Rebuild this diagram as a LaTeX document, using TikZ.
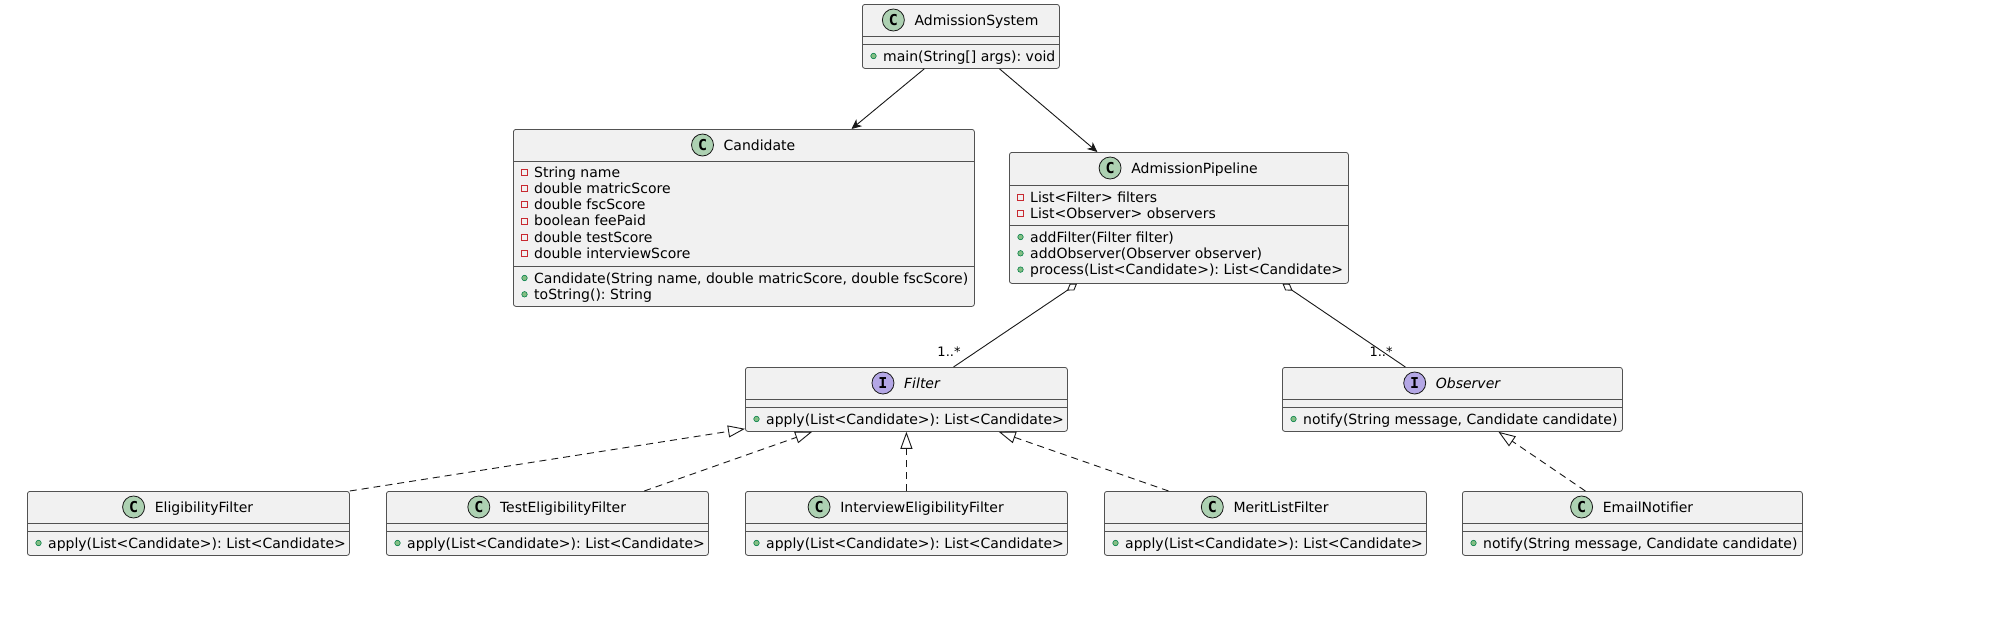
\documentclass[tikz,border=0pt]{standalone}
\usepackage{fontspec}
\setmainfont{DejaVu Sans}
\newfontfamily\iconfont{DejaVu Sans Mono}
\usetikzlibrary{arrows.meta,calc}
\frenchspacing
\definecolor{boxfill}{HTML}{F1F1F1}
\definecolor{boxline}{HTML}{181818}
\definecolor{cicon}{HTML}{ADD1B2}
\definecolor{iicon}{HTML}{B4A7E5}
\definecolor{privc}{HTML}{C82930}
\definecolor{pubfill}{HTML}{84BE84}
\definecolor{publine}{HTML}{038048}
\tikzset{
  umlbox/.style={draw=boxline!75, fill=boxfill, line width=0.8pt, rounded corners=2.5pt, inner sep=0pt, anchor=north west},
  sepline/.style={draw=boxline!75, line width=0.8pt},
  headtext/.style={anchor=base, inner sep=0pt, font=\fontsize{14}{16}\selectfont},
  memtext/.style={anchor=base west, inner sep=0pt, font=\fontsize{14}{16}\selectfont},
  cicn/.style={circle, draw=boxline, line width=0.8pt, fill=cicon, minimum size=22pt, inner sep=0pt, font=\iconfont\bfseries\fontsize{15}{15}\selectfont},
  iicn/.style={circle, draw=boxline, line width=0.8pt, fill=iicon, minimum size=22pt, inner sep=0pt, font=\iconfont\bfseries\fontsize{15}{15}\selectfont},
  privicn/.style={rectangle, draw=privc, line width=0.8pt, minimum size=6pt, inner sep=0pt},
  pubicn/.style={circle, draw=publine, fill=pubfill, line width=0.6pt, minimum size=5.5pt, inner sep=0pt},
  lbl/.style={inner sep=0pt, font=\fontsize{13}{15}\selectfont},
  assoc/.style={draw=boxline, line width=0.9pt, -{Stealth[length=10pt, width=9pt, inset=3pt]}},
  agg/.style={draw=boxline, line width=0.9pt, {Diamond[open, length=12pt, width=8pt]}-},
  real/.style={draw=boxline, line width=0.9pt, dash pattern=on 7pt off 5pt, -{Triangle[open, length=17pt, width=12pt]}}
}
\newcommand\cbox[6]{%
  \node[umlbox, minimum width={#4-#2}, minimum height={#5-#3}] (#1) at (#2,#3) {};
  \foreach \s in {#6} {\draw[sepline] (#2,\s) -- (#4,\s);}
}
\newcommand\head[6]{%
  \node[headtext] (#1) at (#2+16,#3+21) {#6};
  \node[#5] (#1i) at ($(#1.base west)+(-21,-5)$) {#4};
}
\newcommand\mem[5]{%
  \node[memtext] (#1) at (#3+21,#4+5) {#5};
  \node[#2] (#1v) at ($(#1.base west)+(-9.5,-5)$) {};
}
\begin{document}
\begin{tikzpicture}[x=1pt,y=-1pt]
\useasboundingbox (0,0) rectangle (1991,616);
\fill[white] (0,0) rectangle (1991,616);

% AdmissionSystem
\cbox{sys}{862}{4}{1059}{68}{36,44}
\head{sysh}{960.5}{4}{C}{cicn}{AdmissionSystem}
\mem{sysm1}{pubicn}{862}{56}{main(String[] args): void}

% Candidate
\cbox{cand}{513}{129}{974}{306}{161,266}
\head{candh}{743.5}{129}{C}{cicn}{Candidate}
\mem{canda1}{privicn}{513}{172}{String name}
\mem{canda2}{privicn}{513}{188.3}{double matricScore}
\mem{canda3}{privicn}{513}{204.6}{double fscScore}
\mem{canda4}{privicn}{513}{220.9}{boolean feePaid}
\mem{canda5}{privicn}{513}{237.2}{double testScore}
\mem{canda6}{privicn}{513}{253.5}{double interviewScore}
\mem{candm1}{pubicn}{513}{278}{Candidate(String name, double matricScore, double fscScore)}
\mem{candm2}{pubicn}{513}{294.3}{toString(): String}

% AdmissionPipeline
\cbox{pipe}{1009}{152}{1348}{283}{185,225}
\head{pipeh}{1178.5}{152}{C}{cicn}{AdmissionPipeline}
\mem{pipea1}{privicn}{1009}{197}{List<Filter> filters}
\mem{pipea2}{privicn}{1009}{213.3}{List<Observer> observers}
\mem{pipem1}{pubicn}{1009}{237}{addFilter(Filter filter)}
\mem{pipem2}{pubicn}{1009}{253.3}{addObserver(Observer observer)}
\mem{pipem3}{pubicn}{1009}{269.6}{process(List<Candidate>): List<Candidate>}

% Filter
\cbox{filt}{745}{367}{1067}{431}{399,407}
\head{filth}{906}{367}{I}{iicn}{\itshape Filter}
\mem{filtm1}{pubicn}{745}{419}{apply(List<Candidate>): List<Candidate>}

% Observer
\cbox{obs}{1282}{367}{1622}{431}{399,407}
\head{obsh}{1452}{367}{I}{iicn}{\itshape Observer}
\mem{obsm1}{pubicn}{1282}{419}{notify(String message, Candidate candidate)}

% bottom row
\cbox{elig}{27}{491}{349}{555}{523,531}
\head{eligh}{188}{491}{C}{cicn}{EligibilityFilter}
\mem{eligm1}{pubicn}{27}{543}{apply(List<Candidate>): List<Candidate>}

\cbox{test}{386}{491}{708}{555}{523,531}
\head{testh}{547}{491}{C}{cicn}{TestEligibilityFilter}
\mem{testm1}{pubicn}{386}{543}{apply(List<Candidate>): List<Candidate>}

\cbox{intv}{745}{491}{1067}{555}{523,531}
\head{intvh}{906}{491}{C}{cicn}{InterviewEligibilityFilter}
\mem{intvm1}{pubicn}{745}{543}{apply(List<Candidate>): List<Candidate>}

\cbox{merit}{1104}{491}{1426}{555}{523,531}
\head{merith}{1265}{491}{C}{cicn}{MeritListFilter}
\mem{meritm1}{pubicn}{1104}{543}{apply(List<Candidate>): List<Candidate>}

\cbox{email}{1462}{491}{1802}{555}{523,531}
\head{emailh}{1632}{491}{C}{cicn}{EmailNotifier}
\mem{emailm1}{pubicn}{1462}{543}{notify(String message, Candidate candidate)}

% connectors
\draw[assoc] ($(sys.south west)!0.315!(sys.south east)$) -- ($(cand.north west)!0.733!(cand.north east)$);
\draw[assoc] ($(sys.south west)!0.695!(sys.south east)$) -- ($(pipe.north west)!0.26!(pipe.north east)$);
\draw[agg] ($(pipe.south west)!0.2!(pipe.south east)$) -- ($(filt.north west)!0.646!(filt.north east)$);
\draw[agg] ($(pipe.south west)!0.805!(pipe.south east)$) -- ($(obs.north west)!0.362!(obs.north east)$);
\draw[real] (elig.north east) -- ($(filt.south west)+(0,-3)$);
\draw[real] ($(test.north west)!0.8!(test.north east)$) -- ($(filt.south west)!0.208!(filt.south east)$);
\draw[real] (intv.north) -- (filt.south);
\draw[real] ($(merit.north west)!0.2!(merit.north east)$) -- ($(filt.south west)!0.786!(filt.south east)$);
\draw[real] ($(email.north west)!0.362!(email.north east)$) -- ($(obs.south west)!0.635!(obs.south east)$);

\node[lbl] (mult1) at (949,352) {1..*};
\node[lbl] (mult2) at (1381,352) {1..*};
\end{tikzpicture}
\end{document}
